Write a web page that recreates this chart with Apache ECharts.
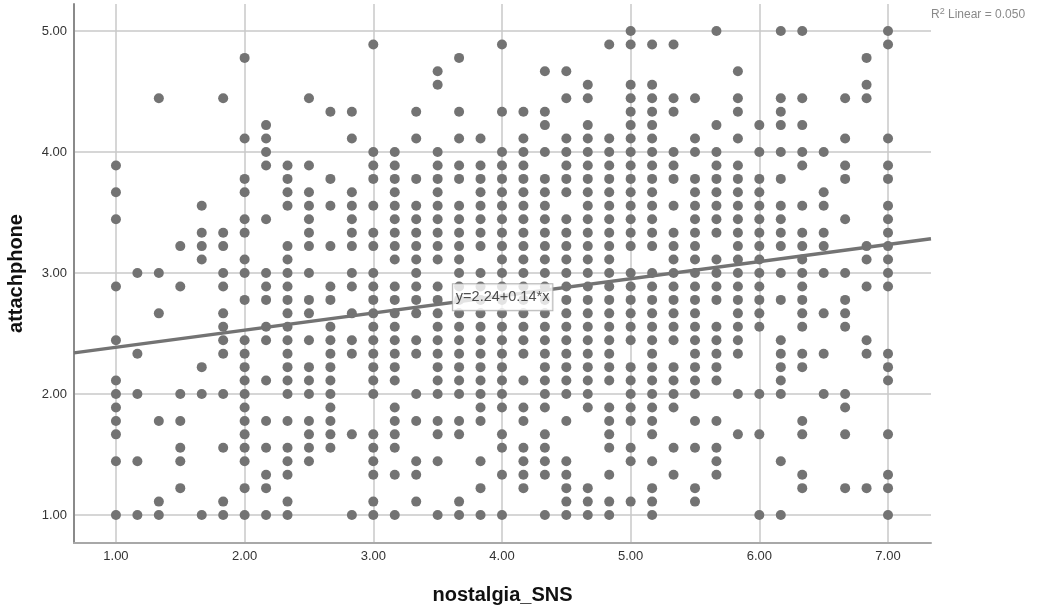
<!DOCTYPE html>
<html><head><meta charset="utf-8">
<style>html,body{margin:0;padding:0;background:#fff}#c{width:1038px;height:608px}</style>
<script src="https://cdn.jsdelivr.net/npm/echarts@6/dist/echarts.min.js"></script>
</head><body><div id="c"></div>
<script>
// Each row: answers on a 1/9 grid of attachphone, listing nostalgia_SNS answers as steps of 1/6 above 1.00.
const r36=[24,28,31,32,36];
const r35=[12,18,23,24,25,26,36];
const r34=[6,16,35];
const r33=[15,20,21,29];
const r32=[15,22,24,25,35];
const r31=[2,5,9,21,22,24,25,26,27,29,31,32,34,35];
const r30=[10,11,14,16,18,19,20,24,25,26,29,31];
const r29=[7,20,22,24,25,28,30,31,32];
const r28=[6,7,11,14,16,17,19,21,22,23,24,25,27,29,34,36];
const r27=[7,12,13,15,18,19,20,21,22,23,24,25,26,27,28,30,31,32,33];
const r26=[0,7,8,9,12,13,15,16,17,18,19,21,22,23,24,25,26,28,29,32,34,36];
const r25=[6,8,10,12,13,14,15,16,17,18,19,20,21,22,23,24,25,26,27,28,29,30,31,34,36];
const r24=[0,6,8,9,11,13,15,17,18,19,20,21,22,23,24,25,27,28,29,30,33];
const r23=[4,8,9,10,11,12,13,14,15,16,17,18,19,20,22,23,24,25,26,27,28,29,30,31,32,33,36];
const r22=[0,6,7,9,11,13,14,15,16,17,18,19,20,21,22,23,24,25,27,28,29,30,31,34,36];
const r21=[4,5,6,9,11,12,13,14,15,16,17,18,19,20,21,22,23,24,25,26,27,28,29,30,31,32,33,36];
const r20=[3,4,5,8,9,10,11,12,13,14,15,16,17,18,19,20,21,22,23,24,25,26,27,29,30,31,32,33,35,36];
const r19=[4,6,8,13,14,15,16,18,19,20,21,22,23,26,27,28,29,30,32,35,36];
const r18=[1,2,5,6,7,8,9,11,12,14,16,17,18,19,20,21,22,23,24,25,26,27,28,29,30,31,32,33,34,36];
const r17=[0,3,5,7,8,10,11,12,13,14,15,16,17,18,19,20,21,22,23,24,25,26,27,28,29,30,32,35,36];
const r16=[6,7,8,9,10,12,13,14,15,16,17,18,19,20,21,22,23,24,25,26,27,28,29,30,31,32,34];
const r15=[2,5,8,9,11,12,13,14,15,16,17,18,19,20,21,22,23,24,25,26,27,29,30,32,33,34];
const r14=[5,7,8,10,12,13,15,16,17,18,19,20,21,22,23,24,25,26,27,28,29,30,32,34];
const r13=[0,5,6,7,8,9,10,11,12,13,14,15,16,17,18,19,20,21,22,23,24,25,26,27,28,29,31,35];
const r12=[1,5,6,8,10,11,12,13,14,15,16,17,18,19,20,21,22,23,25,27,28,29,31,32,33,35,36];
const r11=[4,6,8,9,10,12,13,15,16,17,18,20,21,22,23,24,25,26,27,28,31,32,36];
const r10=[0,6,7,8,9,10,12,13,15,16,17,18,19,20,21,22,23,24,25,26,27,28,31,36];
const r9=[0,1,3,4,5,6,8,9,10,12,14,15,16,17,18,20,21,22,24,25,26,27,29,30,31,33,34];
const r8=[0,6,10,13,17,18,19,20,22,23,24,25,26,34];
const r7=[0,2,3,6,7,8,9,10,13,14,15,16,17,19,21,23,24,25,27,28,32];
const r6=[0,6,9,10,11,12,13,15,16,18,20,23,25,29,30,32,34,36];
const r5=[3,5,6,7,8,9,10,12,13,18,19,20,23,24,26,27,28];
const r4=[0,1,3,6,8,9,12,14,15,17,19,20,21,24,25,28,31];
const r3=[7,8,12,13,14,18,19,20,21,23,26,28,32,36];
const r2=[3,6,7,17,19,21,22,25,27,32,34,35,36];
const r1=[2,5,8,12,14,16,21,22,23,24,25,27];
const r0=[0,1,2,4,5,6,7,8,11,12,13,15,16,17,18,20,21,22,23,25,30,31,36];
const rows=[r0,r1,r2,r3,r4,r5,r6,r7,r8,r9,r10,r11,r12,r13,r14,r15,r16,r17,r18,r19,r20,r21,r22,r23,r24,r25,r26,r27,r28,r29,r30,r31,r32,r33,r34,r35,r36];

const tickValues=[1,2,3,4,5,6,7];
const yTickValues=[1,2,3,4,5];
const fitX=[0.674,7.334];
const fitY=[2.34,3.283];
const eqAt=[4.005,2.80];
const eqText='y=2.24+0.14*x';

const points=[];
rows.forEach((r,j)=>r.forEach(k=>points.push([1+k/6,1+j/9])));

const font='"Liberation Sans",Arial,sans-serif';
const gridLine={show:true,lineStyle:{color:'#c8c8c8',width:1.5}};
const chart=echarts.init(document.getElementById('c'),null,{renderer:'canvas'});
chart.setOption({
  animation:false,
  backgroundColor:'#fff',
  textStyle:{fontFamily:font},
  title:{
    left:931,top:7,padding:0,
    text:'{a|R}{b|2}{a| Linear = 0.050}',
    textStyle:{fontWeight:'normal',rich:{
      a:{fontSize:12,fontWeight:'normal',color:'#8a8a8a',fontFamily:font},
      b:{fontSize:9,fontWeight:'normal',color:'#8a8a8a',fontFamily:font,padding:[0,0,6,0]}
    }}
  },
  grid:{left:74,right:107,top:4,bottom:65,outerBoundsMode:'none'},
  xAxis:{
    type:'value',min:0.674,max:7.334,
    name:'nostalgia_SNS',nameLocation:'middle',nameGap:42,
    nameTextStyle:{fontFamily:font,fontWeight:'bold',fontSize:20,color:'#111'},
    axisLine:{show:true,onZero:false,lineStyle:{color:'#a8a8a8',width:2}},
    axisTick:{show:false,customValues:tickValues},
    axisLabel:{customValues:tickValues,formatter:v=>v.toFixed(2),fontSize:13,color:'#333',margin:7,fontFamily:font},
    splitLine:gridLine
  },
  yAxis:{
    type:'value',min:0.769,max:5.223,
    name:'attachphone',nameLocation:'middle',nameGap:48,
    nameTextStyle:{fontFamily:font,fontWeight:'bold',fontSize:20,color:'#111'},
    axisLine:{show:true,onZero:false,lineStyle:{color:'#8a8a8a',width:2}},
    axisTick:{show:false,customValues:yTickValues},
    axisLabel:{customValues:yTickValues,formatter:v=>v.toFixed(2),fontSize:13,color:'#333',margin:7,fontFamily:font},
    splitLine:gridLine
  },
  series:[
    {type:'scatter',data:points,symbol:'circle',symbolSize:10,itemStyle:{color:'#737373',opacity:1},silent:true,z:3},
    {type:'line',data:[[fitX[0],fitY[0]],[fitX[1],fitY[1]]],symbol:'none',lineStyle:{color:'#737373',width:3.5},silent:true,z:4},
    {type:'scatter',data:[eqAt],symbolSize:0,silent:true,z:5,
      label:{show:true,position:'inside',formatter:eqText,fontFamily:font,fontSize:14.5,color:'#222',
        backgroundColor:'#fff',borderColor:'#a0a0a0',borderWidth:1,padding:[6,3,5,3]}}
  ]
});
</script></body></html>
